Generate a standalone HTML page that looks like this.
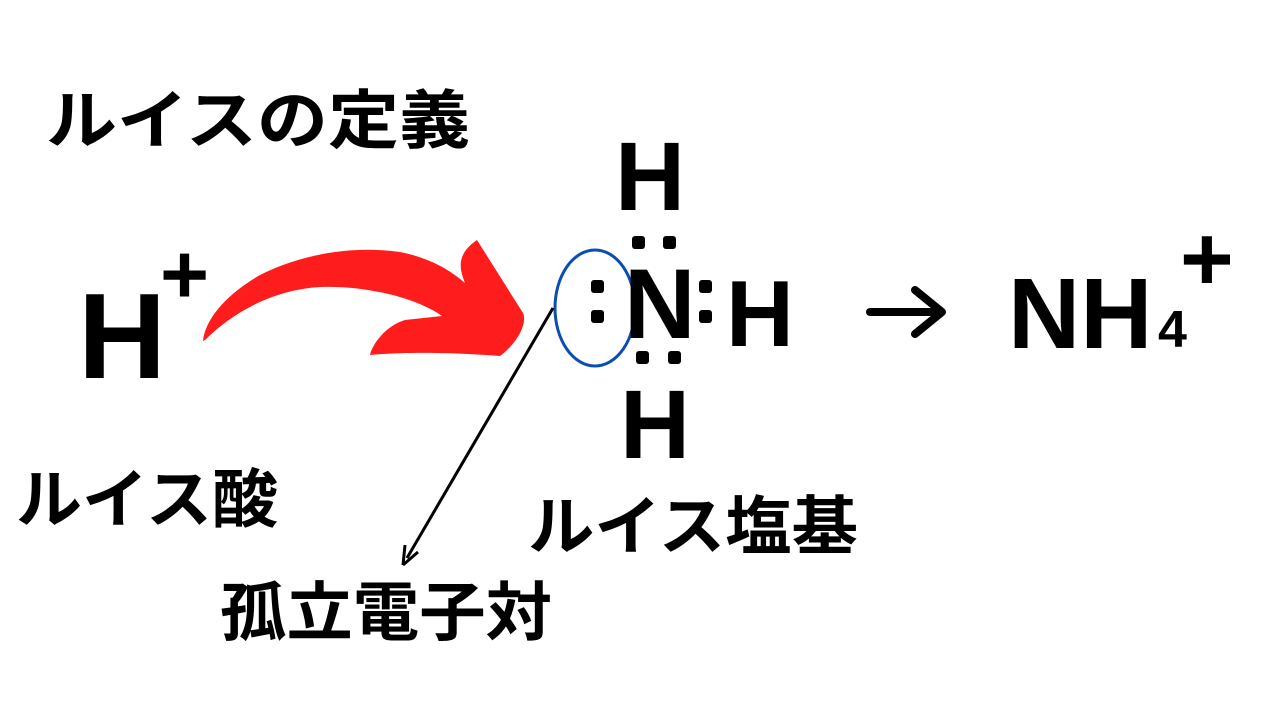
<!DOCTYPE html>
<html><head><meta charset="utf-8"><style>
html,body{margin:0;padding:0;background:#fff;}
svg{display:block}
text{font-family:"Liberation Sans","Noto Sans CJK JP",sans-serif;font-weight:bold;fill:#000}
.j{font-family:"Noto Sans CJK JP","Liberation Sans",sans-serif;font-weight:bold}
</style></head><body>
<svg width="1280" height="720" viewBox="0 0 1280 720" xmlns="http://www.w3.org/2000/svg">
<text class="j" x="46" y="143" font-size="64" textLength="424" lengthAdjust="spacingAndGlyphs">ルイスの定義</text>
<text x="78" y="378" font-size="122">H</text>
<text x="160" y="303" font-size="84">+</text>
<path d="M203,341 C205,320 225,295 260,275 C300,255 350,245 400,252 C430,258 450,270 465,283 C460,270 455,255 477,240 L523,313 C528,325 515,345 500,356 C450,352 400,352 370,355 C372,345 385,326 405,320 L442,316 C420,300 370,285 320,287 C270,290 230,315 205,340 Z" fill="#ff1c1c"/>
<ellipse cx="595" cy="308" rx="40" ry="58" fill="none" stroke="#0a4fb0" stroke-width="3"/>
<line x1="553" y1="308" x2="407" y2="558" stroke="#000" stroke-width="3"/>
<path d="M403,565 L405,545 M403,565 L418,552" stroke="#000" stroke-width="3" fill="none"/>
<text x="615" y="210" font-size="97">H</text>
<text x="624" y="338" font-size="99">N</text>
<text x="726" y="346" font-size="94">H</text>
<text x="620" y="458" font-size="97">H</text>
<g fill="#000">
<rect x="632" y="236" width="13" height="13" rx="3"/><rect x="663" y="236" width="13" height="13" rx="3"/>
<rect x="591" y="280" width="13" height="13" rx="3"/><rect x="591" y="310" width="13" height="13" rx="3"/>
<rect x="699" y="280" width="13" height="13" rx="3"/><rect x="699" y="310" width="13" height="13" rx="3"/>
<rect x="636" y="351" width="13" height="13" rx="3"/><rect x="668" y="351" width="13" height="13" rx="3"/>
</g>
<path d="M870,312 L940,312 M915,290 L942,312 L915,334" stroke="#000" stroke-width="8" fill="none" stroke-linecap="round" stroke-linejoin="round"/>
<text x="1008" y="348" font-size="100">NH</text>
<text x="1158" y="347" font-size="52">4</text>
<text x="1180" y="290" font-size="92">+</text>
<text class="j" x="16" y="522" font-size="64" textLength="262" lengthAdjust="spacingAndGlyphs">ルイス酸</text>
<text class="j" x="528" y="549" font-size="64" textLength="330" lengthAdjust="spacingAndGlyphs">ルイス塩基</text>
<text class="j" x="220" y="635" font-size="64" textLength="332" lengthAdjust="spacingAndGlyphs">孤立電子対</text>
</svg>
</body></html>
